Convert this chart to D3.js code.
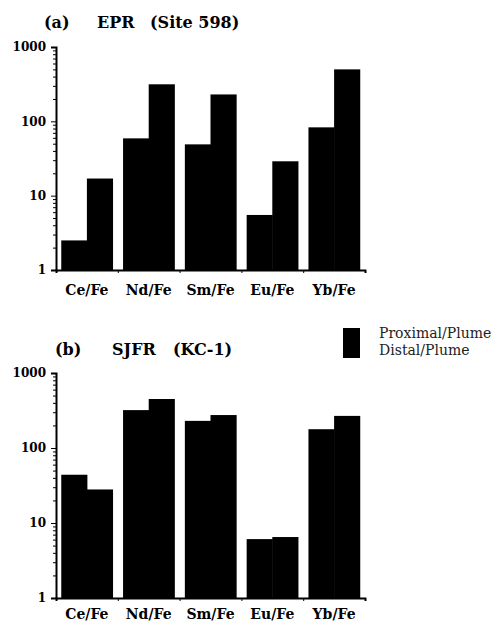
<!DOCTYPE html>
<html>
<head>
<meta charset="utf-8">
<script src="https://cdn.jsdelivr.net/npm/d3@7"></script>
<style>
  body { margin: 0; background: #fff; }
  text { font-family: "DejaVu Serif", "Liberation Serif", serif; }
</style>
</head>
<body>
<div id="chart"></div>
<script>
// REE/Fe ratios normalised to plume values
const categories = ['Ce/Fe', 'Nd/Fe', 'Sm/Fe', 'Eu/Fe', 'Yb/Fe'];
const series = ['Proximal/Plume', 'Distal/Plume'];
const eprProximal = [2.5, 59, 49, 5.5, 83];
const eprDistal = [17, 315, 230, 29, 500];
const sjfrProximal = [44, 320, 230, 6.1, 178];
const sjfrDistal = [28, 450, 275, 6.5, 268];
const yTicks = [1, 10, 100, 1000];

const svg = d3.select('#chart')
    .append('svg')
    .attr('width', 499)
    .attr('height', 622);

const panels = [
    { label: '(a)', labelX: 44, name: ['EPR', '(Site 598)'], nameX: [97, 150], titleY: 28,
      prox: eprProximal, dist: eprDistal, top: 47, bottom: 270, labelPad: 15 },
    { label: '(b)', labelX: 55, name: ['SJFR', '(KC-1)'], nameX: [112, 173], titleY: 355,
      prox: sjfrProximal, dist: sjfrDistal, top: 373, bottom: 598, labelPad: 11 }
];

const left = 56, right = 365;

const x = d3.scaleBand()
    .domain(categories)
    .range([left, right])
    .paddingInner(0.17)
    .paddingOuter(0.085);

const xSub = d3.scaleBand()
    .domain(series)
    .range([0, x.bandwidth()]);

// tick marks sit between the categories
const xEdges = d3.scaleLinear()
    .domain([0, categories.length])
    .range([left, right]);

// minor log ticks
const minorTicks = [];
[1, 10, 100].forEach(d => { for (let k = 2; k <= 9; k++) minorTicks.push(d * k); });

panels.forEach(p => {
    const y = d3.scaleLog()
        .domain([1, 1000])
        .range([p.bottom, p.top]);

    // title
    svg.append('text')
        .attr('x', p.labelX)
        .attr('y', p.titleY)
        .attr('font-size', '16px')
        .attr('font-weight', 'bold')
        .text(p.label);
    p.name.forEach((t, i) => {
        svg.append('text')
            .attr('x', p.nameX[i])
            .attr('y', p.titleY)
            .attr('font-size', '16px')
            .attr('font-weight', 'bold')
            .text(t);
    });

    // bars
    const rows = categories.map((c, i) => ({ cat: c, vals: [p.prox[i], p.dist[i]] }));
    const g = svg.append('g');
    g.selectAll('g.grp')
        .data(rows)
        .enter()
        .append('g')
        .attr('class', 'grp')
        .attr('transform', d => `translate(${x(d.cat)},0)`)
        .selectAll('rect')
        .data(d => d.vals.map((v, j) => ({ s: series[j], v })))
        .enter()
        .append('rect')
        .attr('x', d => xSub(d.s))
        .attr('y', d => y(d.v))
        .attr('width', xSub.bandwidth() + 0.5)
        .attr('height', d => y(1) - y(d.v))
        .attr('fill', '#000');

    // y axis
    const yAxis = svg.append('g')
        .attr('transform', `translate(${left},0)`)
        .call(d3.axisLeft(y).tickValues(yTicks).tickFormat(d3.format('d')).tickSize(5).tickPadding(5));
    yAxis.select('.domain').attr('stroke-width', 2);
    yAxis.selectAll('text')
        .attr('font-size', '12px')
        .attr('font-weight', 'bold')
        .attr('font-family', '"DejaVu Serif", serif');

    const yMinor = svg.append('g')
        .attr('transform', `translate(${left},0)`)
        .call(d3.axisLeft(y).tickValues(minorTicks).tickFormat('').tickSize(3));
    yMinor.select('.domain').remove();

    // x axis
    const xAxis = svg.append('g')
        .attr('transform', `translate(0,${p.bottom})`)
        .call(d3.axisBottom(xEdges).ticks(categories.length).tickFormat('').tickSize(3).tickSizeOuter(3));
    xAxis.select('.domain').attr('stroke-width', 2);

    const xLabels = svg.append('g')
        .attr('transform', `translate(0,${p.bottom})`)
        .call(d3.axisBottom(x).tickSize(0).tickPadding(p.labelPad));
    xLabels.select('.domain').remove();
    xLabels.selectAll('text')
        .attr('font-size', '14px')
        .attr('font-weight', 'bold')
        .attr('font-family', '"DejaVu Serif", serif');
});

// legend
const legend = svg.append('g').attr('transform', 'translate(343,328)');
series.forEach((s, i) => {
    legend.append('rect')
        .attr('x', 0)
        .attr('y', i * 15)
        .attr('width', 17)
        .attr('height', 15)
        .attr('fill', '#000');
    legend.append('text')
        .attr('x', 36)
        .attr('y', 10 + i * 17)
        .attr('font-size', '14px')
        .attr('fill', '#222')
        .text(s);
});
</script>
</body>
</html>
